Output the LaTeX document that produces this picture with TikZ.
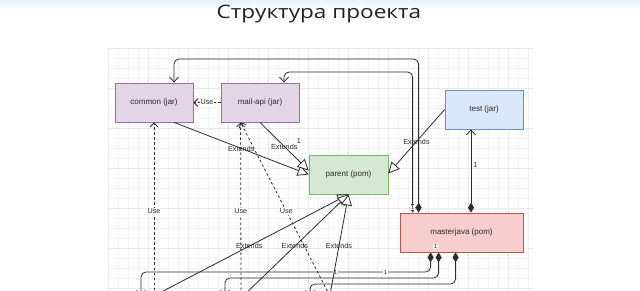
\documentclass[tikz,border=0pt]{standalone}
\usepackage{fontspec}
\setmainfont{Liberation Sans}
\newfontfamily\titlefont[FakeStretch=1.22]{Open Sans}
\usetikzlibrary{arrows.meta}
\definecolor{ink}{HTML}{2B2B2B}
\definecolor{titleink}{HTML}{222222}
\definecolor{hair}{HTML}{F3F3F3}
\definecolor{hair2}{HTML}{E9E9E9}
\definecolor{lilac}{HTML}{E1D5E7}
\definecolor{lilacline}{HTML}{9673A6}
\definecolor{sky}{HTML}{DAE8FC}
\definecolor{skyline}{HTML}{6C8EBF}
\definecolor{leaf}{HTML}{D5E8D4}
\definecolor{leafline}{HTML}{82B366}
\definecolor{rose}{HTML}{F8CECC}
\definecolor{roseline}{HTML}{B85450}
\definecolor{haze}{HTML}{E8F2F8}
\tikzset{
  box/.style    = {rectangle, line width=0.8pt, text=ink, font=\fontsize{8}{9}\selectfont,
                   minimum width=78pt, minimum height=39pt, inner sep=2pt},
  jarbox/.style = {box, draw=lilacline, fill=lilac},
  testbox/.style= {box, draw=skyline, fill=sky},
  pombox/.style = {box, draw=leafline, fill=leaf},
  topbox/.style = {box, draw=roseline, fill=rose, minimum width=123pt},
  ext/.style    = {-{Triangle[fill=white, length=11pt, width=11pt]}, line width=0.8pt, draw=ink},
  use/.style    = {-{Straight Barb[length=4pt, width=8pt]}, line width=0.8pt, draw=ink,
                   dash pattern=on 2.5pt off 2.5pt},
  comp/.style   = {{Diamond[length=10pt, width=6pt]}-{Straight Barb[length=5pt, width=9pt]},
                   line width=0.8pt, draw=ink, rounded corners=5pt},
  lbl/.style    = {font=\fontsize{7.3}{8}\selectfont, text=ink, inner sep=1pt},
  one/.style    = {lbl, fill=white, font=\fontsize{6}{7}\selectfont, inner sep=0.6pt},
}
\begin{document}
\begin{tikzpicture}[x=1pt, y=-1pt]
\useasboundingbox (0,0) rectangle (640,291);
\clip (0,0) rectangle (640,291);
\fill[white] (0,0) rectangle (640,291);
\shade[top color=haze, bottom color=white] (0,0) rectangle (640,8);
% grid
\foreach \gx in {108,118,...,528} \draw[hair, line width=0.5pt] (\gx,48) -- (\gx,291);
\foreach \gy in {48,58,...,288} \draw[hair, line width=0.5pt] (108,\gy) -- (533,\gy);
\foreach \gx in {108,148,...,528} \draw[hair2, line width=0.5pt] (\gx,48) -- (\gx,291);
\foreach \gy in {48,88,...,288} \draw[hair2, line width=0.5pt] (108,\gy) -- (533,\gy);
\node[font=\titlefont\fontsize{18.5}{22}\selectfont, text=titleink, anchor=base] (title) at (319,19) {Структура проекта};
% modules
\node[jarbox] (common) at (154,102.5) {common (jar)};
\node[jarbox] (mailapi) at (260,102.5) {mail-api (jar)};
\node[testbox] (test) at (484,109.5) {test (jar)};
\node[pombox, minimum width=79pt] (parent) at (348.5,174.5) {parent (pom)};
\node[topbox] (master) at (461.5,232.5) {masterjava (pom)};
% off-screen ends
\coordinate (lpA) at (174,59);
\coordinate (lpB) at (284,72);
\coordinate (dnA) at (141,272);
\coordinate (dnB) at (225,278);
\coordinate (dnC) at (310,284);
\coordinate (subA) at (141,296);
\coordinate (subB) at (225,296);
\coordinate (subC) at (310,296);
\coordinate (srcA) at (146,300);
\coordinate (srcB) at (239,300);
\coordinate (srcC) at (329,300);
\coordinate (usrA) at (154,300);
\coordinate (usrB) at (241,300);
\coordinate (usrC) at (332,300);
% composition
\draw[comp] ([xshift=19pt]master.north west) |- (lpA) -- (lpA |- common.north);
\draw[comp] ([xshift=13pt]master.north west) |- (lpB) -- (lpB |- mailapi.north);
\node[one] at ([xshift=13pt,yshift=5pt]master.north west) {1};
\draw[comp] ([xshift=9.5pt]master.north) -- node[lbl, pos=0.57, right=1pt]{1} ([xshift=-13pt]test.south);
\draw[comp] ([xshift=31pt]master.south west) |- node[one, pos=0.578]{1} node[one, pos=0.664]{1} (dnA) -- (subA);
\draw[comp] ([xshift=39pt]master.south west) |- (dnB) -- (subB);
\draw[comp] ([xshift=56pt]master.south west) |- (dnC) -- (subC);
\node[one] at ([xshift=36pt,yshift=6pt]master.south west) {1};
% extends
\draw[ext] ([xshift=20pt]common.south) -- node[lbl]{Extends} (parent.west);
\draw[ext] (mailapi.south) -- node[lbl]{Extends} ([yshift=4pt]parent.west);
\node[lbl] at ([xshift=39pt,yshift=-19pt]mailapi.south) {1};
\draw[ext] (test.west) -- node[lbl]{Extends} ([yshift=1pt]parent.east);
\draw[ext] (srcA) -- node[lbl, pos=0.51]{Extends} (parent.south);
\draw[ext] (srcB) -- node[lbl, pos=0.51]{Extends} (parent.south);
\draw[ext] (srcC) -- node[lbl, pos=0.51]{Extends} (parent.south);
% use
\draw[use] (mailapi.west) -- node[lbl, fill=white]{Use} (common.east);
\draw[use] (usrA) -- node[lbl, fill=white]{Use} (common.south);
\draw[use] (usrB) -- node[lbl, fill=white]{Use} ([xshift=20pt]mailapi.south west);
\draw[use] (usrC) -- node[lbl, fill=white]{Use} ([xshift=20pt]mailapi.south west);
\end{tikzpicture}
\end{document}
